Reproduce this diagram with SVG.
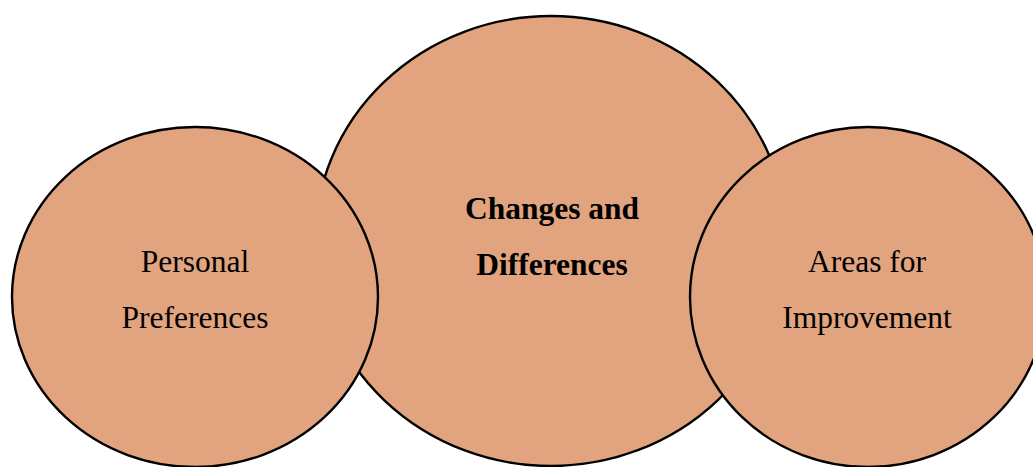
<svg xmlns="http://www.w3.org/2000/svg" width="1033" height="467" viewBox="0 0 1033 467">
<style>
.n{fill:#E2A47F;stroke:#000;stroke-width:2.4}
.t{font-family:"Liberation Serif","Times New Roman",serif;font-size:31.5px;fill:#000;text-anchor:middle}
.b{font-weight:bold}
</style>
<rect width="1033" height="467" fill="#fff"/>
<g id="connectors"></g>
<g id="center">
<ellipse class="n" cx="551" cy="241" rx="236" ry="225"/>
<text class="t b" x="552" y="219">Changes and</text>
<text class="t b" x="552" y="275">Differences</text>
</g>
<g id="left">
<ellipse class="n" cx="195" cy="297" rx="183" ry="170"/>
<text class="t" x="195" y="272">Personal</text>
<text class="t" x="195" y="328">Preferences</text>
</g>
<g id="right">
<ellipse class="n" cx="868" cy="297" rx="178" ry="170"/>
<text class="t" x="867" y="272">Areas for</text>
<text class="t" x="867" y="328">Improvement</text>
</g>
</svg>
